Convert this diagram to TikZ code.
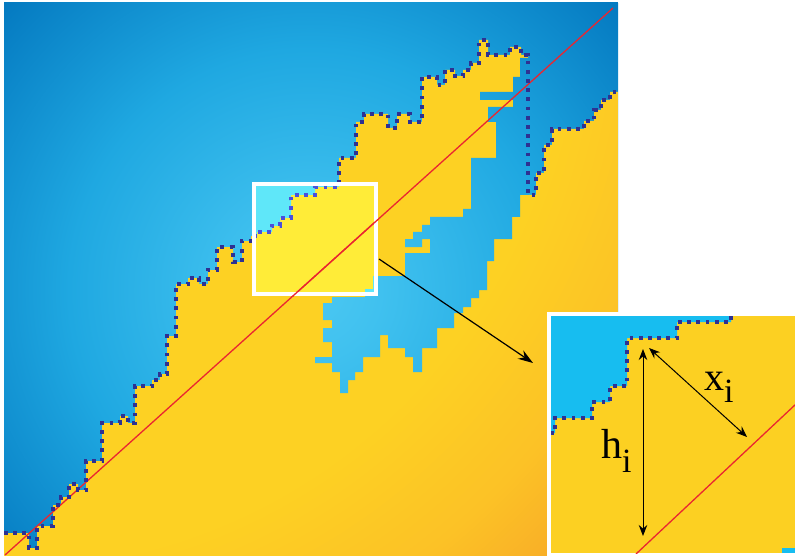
\documentclass[tikz,border=0pt]{standalone}
\usepackage{fontspec}
\setmainfont{Liberation Serif}
\usetikzlibrary{arrows.meta}
\definecolor{lb}{HTML}{4CC8F2}
\definecolor{lb2}{HTML}{40C1EF}
\definecolor{mb}{HTML}{1FA8E1}
\definecolor{db}{HTML}{0479C0}
\definecolor{ylw}{HTML}{FDD123}
\definecolor{ylw2}{HTML}{FCC226}
\definecolor{org}{HTML}{F59F28}
\definecolor{boxy}{HTML}{FFEC38}
\definecolor{boxc}{HTML}{5FE7F9}
\definecolor{dotc}{HTML}{2E3192}
\definecolor{dotl}{HTML}{4B4FDC}
\definecolor{redl}{HTML}{EA2630}
\definecolor{insy}{HTML}{FCD022}
\definecolor{insb}{HTML}{17BDF0}
\pgfdeclareradialshading{bluerad}{\pgfpoint{0bp}{0bp}}{color(0bp)=(lb); color(70bp)=(lb2); color(240bp)=(mb); color(420bp)=(db)}
\pgfdeclareradialshading{yelrad}{\pgfpoint{0bp}{0bp}}{color(0bp)=(ylw); color(560bp)=(ylw); color(690bp)=(ylw2); color(840bp)=(org)}
\tikzset{
  stairs/.style={insert path={-- (4,533) -- (29,533) -- (29,548) -- (37,548) -- (37,526) -- (53,526) -- (53,505) -- (61,505) -- (61,497) -- (69,497) -- (69,484) -- (78,484) -- (78,490) -- (86,490) -- (86,461) -- (102,461) -- (102,423) -- (120,423) -- (120,416) -- (128,416) -- (128,423) -- (135,423) -- (135,386) -- (152,386) -- (152,380) -- (160,380) -- (160,374) -- (167,374) -- (167,336) -- (176,336) -- (176,284) -- (188,284) -- (188,278) -- (199,278) -- (199,284) -- (208,284) -- (208,270) -- (217,270) -- (217,247) -- (233,247) -- (233,262) -- (242,262) -- (242,241) -- (251,241) -- (251,236) -- (257,236) -- (257,232) -- (272,232) -- (272,226) -- (280,226) -- (280,218) -- (291,218) -- (291,195) -- (315,195) -- (315,187) -- (339,187) -- (339,158) -- (356,158) -- (356,122) -- (364,122) -- (364,114) -- (388,114) -- (388,128) -- (397,128) -- (397,114) -- (410,114) -- (410,122) -- (422,122) -- (422,77) -- (437,77) -- (437,85) -- (445,85) -- (445,70) -- (455,70) -- (455,76) -- (463,76) -- (463,70) -- (471,70) -- (471,63) -- (479,63) -- (479,40) -- (488,40) -- (488,55) -- (510,55) -- (510,47) -- (521,47) -- (521,55) -- (528,55)}},
  rstairs/.style={insert path={-- (536,195) -- (536,173) -- (544,173) -- (544,145) -- (552,145) -- (552,129) -- (584,129) -- (584,121) -- (594,121) -- (594,110) -- (601,110) -- (601,100) -- (610,100) -- (610,92) -- (618,92)}},
  island/.style={insert path={(529,58) -- (520,58) -- (520,77) -- (513,77) -- (513,92) -- (480,92) -- (480,100) -- (513,100) -- (513,107) -- (488,107) -- (488,122) -- (496,122) -- (496,158) -- (471,158) -- (471,209) -- (463,209) -- (463,217) -- (430,217) -- (430,225) -- (422,225) -- (422,232) -- (413,232) -- (413,239) -- (405,239) -- (405,247) -- (422,247) -- (422,239) -- (430,239) -- (430,253) -- (405,253) -- (405,276) -- (373,276) -- (373,289) -- (365,289) -- (365,297) -- (332,297) -- (332,303) -- (323,303) -- (323,320) -- (332,320) -- (332,328) -- (323,328) -- (323,342) -- (332,342) -- (332,357) -- (315,357) -- (315,363) -- (332,363) -- (332,372) -- (340,372) -- (340,393) -- (348,393) -- (348,380) -- (355,380) -- (355,372) -- (363,372) -- (363,357) -- (380,357) -- (380,335) -- (388,335) -- (388,348) -- (405,348) -- (405,357) -- (413,357) -- (413,372) -- (422,372) -- (422,348) -- (437,348) -- (437,328) -- (454,328) -- (454,313) -- (463,313) -- (463,307) -- (471,307) -- (471,298) -- (479,298) -- (479,290) -- (487,290) -- (487,261) -- (494,261) -- (494,239) -- (512,239) -- (512,217) -- (520,217) -- (520,195) -- (529,195) -- cycle}},
  dotline/.style={draw=dotc, line width=3.8pt, dash pattern=on 3.8pt off 5.4pt},
  redline/.style={draw=redl, line width=1.3pt},
  dimarrow/.style={{Stealth[length=11pt,width=8.5pt]}-{Stealth[length=11pt,width=8.5pt]}, line width=1pt, draw=black},
  shadenode/.style={inner sep=0pt, outer sep=0pt}
}
\begin{document}
\begin{tikzpicture}[x=1pt,y=-1pt]
\useasboundingbox (0,0) rectangle (795,556);
\fill[white] (0,0) rectangle (795,556);
% blue background
\begin{scope}
\clip (4,3) rectangle (618,556);
\node[shadenode] (bsh1) at (310,290) {\pgfuseshading{bluerad}};
\end{scope}
% yellow region
\begin{scope}
\clip (4,556) [stairs] -- (528,195) [rstairs] -- (618,556) -- cycle;
\node[shadenode] (ysh) at (4,3) {\pgfuseshading{yelrad}};
\end{scope}
% blue island
\begin{scope}
\clip[island];
\node[shadenode] (bsh2) at (310,290) {\pgfuseshading{bluerad}};
\end{scope}
% highlighted box interior
\begin{scope}
\clip (256,186) rectangle (374,292);
\fill[boxy] (256,186) rectangle (374,292);
\fill[boxc] (4,3) [stairs] -- (528,3) -- cycle;
\fill[boxc,island];
\end{scope}
% red diagonal
\coordinate (r1) at (5,555);
\coordinate (r2) at (613,8);
\draw[redline] (r1) -- (r2);
% dotted boundary
\draw[dotline] (4,533) [stairs] -- (528,195) [rstairs];
\begin{scope}
\clip (256,186) rectangle (374,292);
\draw[dotline, draw=dotl] (4,533) [stairs] -- (528,195) [rstairs];
\end{scope}
% zoom box
\node[draw=white, line width=4pt, minimum width=122pt, minimum height=110pt, inner sep=0pt, outer sep=0pt] (zoombox) at (315,239) {};
\begin{scope}
\clip (252,182) rectangle (378,296);
\draw[redline] (r1) -- (r2);
\end{scope}
% arrow to inset
\coordinate (zs) at (379,259);
\coordinate (zt) at (533,363);
\draw[line width=1.2pt, -{Stealth[length=15pt,width=10pt]}] (zs) -- (zt);
% inset
\fill[white] (547,312) rectangle (800,560);
\fill[insy] (551,316) rectangle (795,553);
\fill[insb] (551,316) -- (731,316) -- (731,322) -- (677,322) -- (677,338) -- (627,338) -- (627,386) -- (610,386) -- (610,402) -- (592,402) -- (592,418) -- (555,418) -- (555,433) -- (551,433) -- cycle;
\fill[insb] (782,548) rectangle (795,553);
\draw[dotline] (731,316) -- (731,322) -- (677,322) -- (677,338) -- (627,338) -- (627,386) -- (610,386) -- (610,402) -- (592,402) -- (592,418) -- (555,418) -- (555,433) -- (551,433);
\begin{scope}
\clip (551,316) rectangle (795,553);
\coordinate (ir1) at (636,554);
\coordinate (ir2) at (796,404);
\draw[redline] (ir1) -- (ir2);
\end{scope}
\coordinate (ht) at (643,349);
\coordinate (hb) at (643,536);
\draw[dimarrow] (ht) -- (hb);
\coordinate (xt) at (649,348);
\coordinate (xb) at (747,437);
\draw[dimarrow] (xt) -- (xb);
\node[anchor=base west, inner sep=0pt] (hlab) at (601,458) {\fontsize{42pt}{42pt}\selectfont h\raisebox{-14pt}{\fontsize{34pt}{34pt}\selectfont i}};
\node[anchor=base west, inner sep=0pt] (xlab) at (704,390) {\fontsize{40pt}{40pt}\selectfont x\raisebox{-12pt}{\fontsize{34pt}{34pt}\selectfont i}};
\end{tikzpicture}
\end{document}
